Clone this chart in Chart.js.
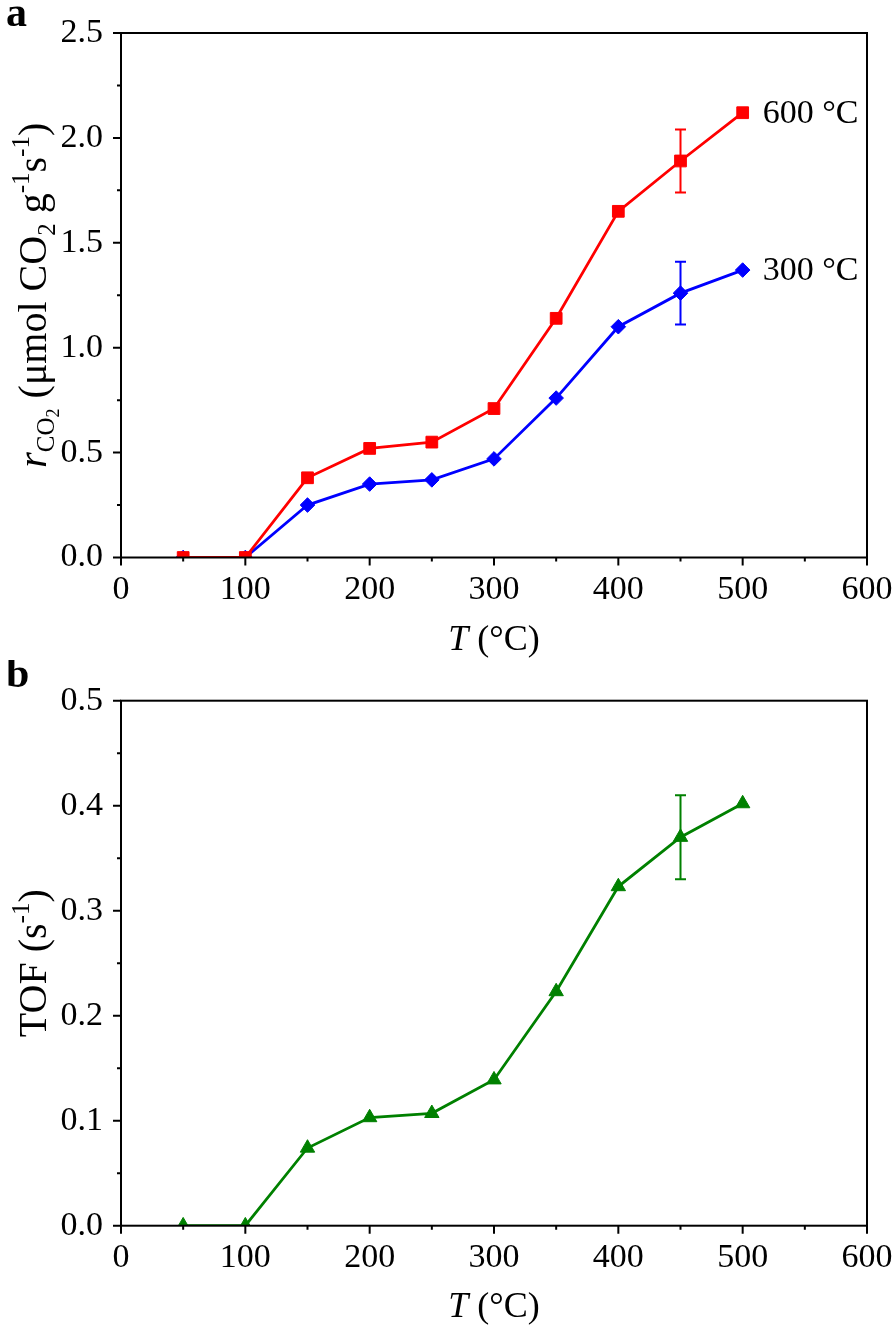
<!DOCTYPE html>
<html>
<head>
<meta charset="utf-8">
<script src="https://cdn.jsdelivr.net/npm/chart.js@4.4.1/dist/chart.umd.min.js"></script>
<style>
  body { margin: 0; background: #fff; }
  #wrap { position: relative; width: 894px; height: 1327px; }
  canvas { position: absolute; left: 0; }
</style>
</head>
<body>
<div id="wrap">
  <canvas id="chartA" width="894" height="660" style="top:0px"></canvas>
  <canvas id="chartB" width="894" height="667" style="top:660px"></canvas>
</div>
<script>
// data
const temps = [50, 100, 150, 200, 250, 300, 350, 400, 450, 500];
const rate600 = [0, 0, 0.38, 0.52, 0.55, 0.71, 1.14, 1.65, 1.89, 2.12];
const rate300 = [0, 0, 0.25, 0.35, 0.37, 0.47, 0.76, 1.10, 1.26, 1.37];
const err600 = [null, null, null, null, null, null, null, null, 0.15, null];
const err300 = [null, null, null, null, null, null, null, null, 0.15, null];
const tof = [0, 0, 0.074, 0.103, 0.107, 0.139, 0.223, 0.323, 0.37, 0.402];
const errTof = [null, null, null, null, null, null, null, null, 0.04, null];
const seriesLabels = ['600 °C', '300 °C'];

const SERIF = "'Liberation Serif', 'Times New Roman', serif";

const toXY = (ys) => temps.map((t, i) => ({ x: t, y: ys[i] }));

// rich text helpers (italic, sub/superscripts)
const fontFor = (p, size) =>
  (p.bold ? 'bold ' : '') + (p.italic ? 'italic ' : '') + Math.round(size * (p.scale || 1)) + 'px ' + SERIF;

function richWidth(ctx, parts, size) {
  let w = 0;
  parts.forEach(p => { ctx.font = fontFor(p, size); w += ctx.measureText(p.t).width; });
  return w;
}

function drawRich(ctx, parts, size, cx, cy, rotated) {
  ctx.save();
  ctx.translate(cx, cy);
  if (rotated) ctx.rotate(-Math.PI / 2);
  let x = -richWidth(ctx, parts, size) / 2;
  ctx.fillStyle = '#000';
  ctx.textBaseline = 'alphabetic';
  ctx.textAlign = 'left';
  parts.forEach(p => {
    ctx.font = fontFor(p, size);
    ctx.fillText(p.t, x, (p.dy || 0) * size);
    x += ctx.measureText(p.t).width;
  });
  ctx.restore();
}

const xTitle = [{ t: 'T', italic: true }, { t: ' (°C)' }];
const yTitleA = [
  { t: 'r', italic: true }, { t: 'CO', scale: 0.62, dy: 0.2 }, { t: '2', scale: 0.45, dy: 0.33 },
  { t: ' (μmol CO' }, { t: '2', scale: 0.62, dy: 0.22 }, { t: ' g' }, { t: '-1', scale: 0.62, dy: -0.42 },
  { t: 's' }, { t: '-1', scale: 0.62, dy: -0.42 }, { t: ')' }
];
const yTitleB = [{ t: 'TOF (s' }, { t: '-1', scale: 0.62, dy: -0.42 }, { t: ')' }];

// frame, ticks, error bars and text
function makeFramePlugin(cfg) {
  return {
    id: 'frame',
    afterDatasetsDraw(chart) {
      const { ctx, scales: { y } } = chart;
      ctx.save();
      chart.data.datasets.forEach((ds, i) => {
        if (!ds.errors) return;
        const pts = chart.getDatasetMeta(i).data;
        ctx.strokeStyle = ds.borderColor;
        ctx.lineWidth = 2;
        ds.errors.forEach((e, j) => {
          if (e == null) return;
          const px = pts[j].x;
          const top = y.getPixelForValue(ds.data[j].y + e);
          const bot = y.getPixelForValue(ds.data[j].y - e);
          ctx.beginPath();
          ctx.moveTo(px, top); ctx.lineTo(px, bot);
          ctx.moveTo(px - 5.5, top); ctx.lineTo(px + 5.5, top);
          ctx.moveTo(px - 5.5, bot); ctx.lineTo(px + 5.5, bot);
          ctx.stroke();
        });
      });
      ctx.restore();
    },
    afterDraw(chart) {
      const { ctx, chartArea: a, scales: { x, y } } = chart;
      ctx.save();
      ctx.strokeStyle = '#000';
      ctx.lineWidth = 2;
      ctx.beginPath();
      for (let k = 0; x.min + k * cfg.xMinor <= x.max + 1e-9; k++) {
        const px = x.getPixelForValue(x.min + k * cfg.xMinor);
        ctx.moveTo(px, a.bottom);
        ctx.lineTo(px, a.bottom + (k % 2 === 0 ? 8 : 4));
      }
      for (let k = 0; y.min + k * cfg.yMinor <= y.max + 1e-9; k++) {
        const py = y.getPixelForValue(y.min + k * cfg.yMinor);
        ctx.moveTo(a.left, py);
        ctx.lineTo(a.left - (k % 2 === 0 ? 8 : 4), py);
      }
      ctx.stroke();
      ctx.strokeRect(a.left, a.top, a.right - a.left, a.bottom - a.top);
      ctx.restore();

      // panel letter
      ctx.save();
      ctx.fillStyle = '#000';
      ctx.font = 'bold 42px ' + SERIF;
      ctx.textBaseline = 'alphabetic';
      ctx.fillText(cfg.letter, 6, cfg.letterY);
      ctx.restore();

      drawRich(ctx, xTitle, 36, (a.left + a.right) / 2, cfg.xTitleY, false);
      drawRich(ctx, cfg.yTitle, cfg.yTitleSize, 46, (a.top + a.bottom) / 2, true);

      if (cfg.labels) {
        ctx.save();
        ctx.fillStyle = '#000';
        ctx.font = '34px ' + SERIF;
        ctx.textBaseline = 'middle';
        cfg.labels.forEach((txt, i) => {
          const pts = chart.getDatasetMeta(i).data;
          const p = pts[pts.length - 1];
          ctx.fillText(txt, p.x + 20, p.y + 1);
        });
        ctx.restore();
      }
    }
  };
}

function makeChart(id, datasets, yMax, yStep, cfg) {
  const el = document.getElementById(id);
  return new Chart(el, {
    type: 'line',
    data: { datasets: datasets },
    options: {
      responsive: false,
      animation: false,
      events: [],
      layout: { padding: { top: cfg.top, right: 27, left: 0, bottom: 0 } },
      plugins: { legend: { display: false }, tooltip: { enabled: false } },
      scales: {
        x: {
          type: 'linear', min: 0, max: 600,
          grid: { display: false, drawTicks: false },
          border: { display: false },
          ticks: { stepSize: 100, autoSkip: false, maxRotation: 0, padding: 12, color: '#000',
                   font: { family: SERIF, size: 34 } },
          afterFit: (s) => {
            s.height = el.height - cfg.bottom;
            s.paddingLeft = 0; s.paddingRight = 0;
          }
        },
        y: {
          min: 0, max: yMax,
          grid: { display: false, drawTicks: false },
          border: { display: false },
          ticks: { stepSize: yStep, padding: 18, color: '#000', font: { family: SERIF, size: 34 },
                   callback: (v) => v.toFixed(1) },
          afterFit: (s) => {
            s.width = 121;
            s.paddingTop = 0; s.paddingBottom = 0;
          }
        }
      }
    },
    plugins: [makeFramePlugin(cfg)]
  });
}

const lineStyle = (color, shape, r) => ({
  borderColor: color, backgroundColor: color, pointBackgroundColor: color, pointBorderColor: color,
  borderWidth: 2.8, pointStyle: shape, pointRadius: r, pointBorderWidth: 1, tension: 0, clip: 0
});

makeChart('chartA', [
  Object.assign({ label: seriesLabels[0], data: toXY(rate600), errors: err600 }, lineStyle('#ff0000', 'rect', 8.3)),
  Object.assign({ label: seriesLabels[1], data: toXY(rate300), errors: err300 }, lineStyle('#0000ff', 'rectRot', 7.3))
], 2.5, 0.5, {
  top: 33, bottom: 557.5, xMinor: 50, yMinor: 0.25,
  letter: 'a', letterY: 26, xTitleY: 650, yTitle: yTitleA, yTitleSize: 40, labels: seriesLabels
});

makeChart('chartB', [
  Object.assign({ label: 'TOF', data: toXY(tof), errors: errTof }, lineStyle('#008000', 'triangle', 8.3))
], 0.5, 0.1, {
  top: 40.7, bottom: 565.7, xMinor: 50, yMinor: 0.05,
  letter: 'b', letterY: 27, xTitleY: 657, yTitle: yTitleB, yTitleSize: 40
});
</script>
</body>
</html>
